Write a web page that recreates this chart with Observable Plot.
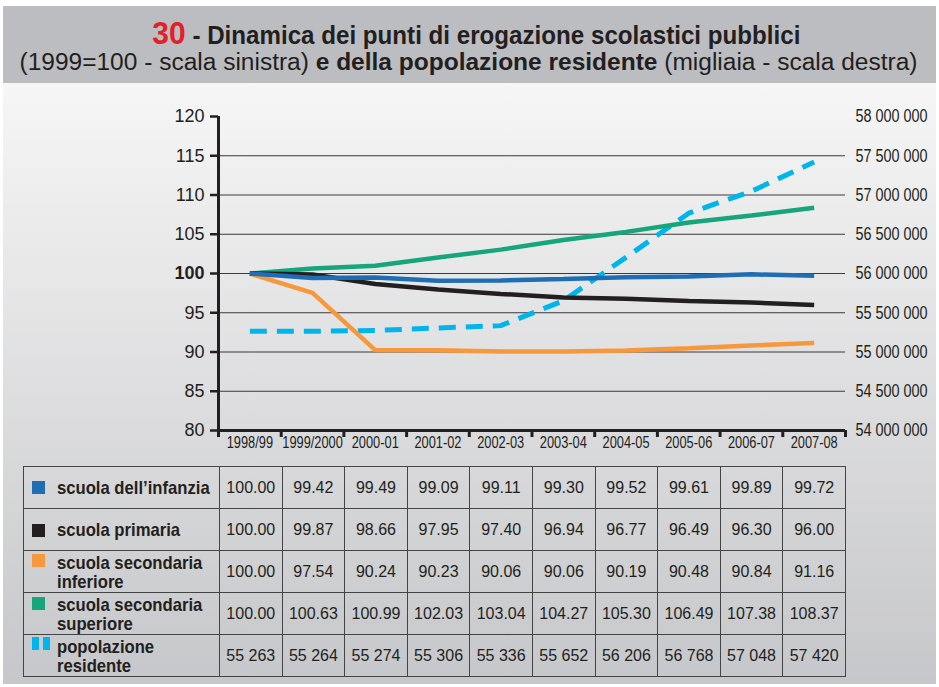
<!DOCTYPE html>
<html><head><meta charset="utf-8">
<script src="https://cdn.jsdelivr.net/npm/d3@7"></script>
<script src="https://cdn.jsdelivr.net/npm/@observablehq/plot@0.6"></script>
<style>
body{margin:0;background:#fff;}
#wrap{position:relative;width:939px;height:687px;overflow:hidden;font-family:"Liberation Sans",Arial,sans-serif;color:#231f20;}
#band{position:absolute;left:3px;top:6px;width:933px;height:77px;background:#bcbdc1;}
#panel{position:absolute;left:3px;top:83px;width:933px;height:601px;background:linear-gradient(#f6f6f6,#c6c7ca);}
.tline{position:absolute;left:0;text-align:center;white-space:nowrap;}
.tline span.in{display:inline-block;transform-origin:center center;}
#t1{top:16px;width:952px;font-weight:bold;font-size:25px;}
#t1 .num{color:#e3202a;font-size:31px;}
#t2{top:49px;width:938px;font-size:23px;}
#chart{position:absolute;left:0;top:90px;}
#tbl{position:absolute;left:23px;top:466px;width:823px;border-collapse:collapse;table-layout:fixed;}
#tbl td{border:1px solid #444;height:41px;padding:0;text-align:center;font-size:16px;overflow:visible;}
#tbl td.lab{text-align:left;position:relative;white-space:nowrap;}
#tbl td.lab .lbl{display:inline-block;margin-left:33px;font-weight:bold;font-size:18.5px;line-height:19px;transform:scaleX(0.9);transform-origin:left center;vertical-align:middle;}
.sw{position:absolute;left:8px;width:13px;height:13px;}
.sw2{position:absolute;width:7px;height:13px;}
</style></head>
<body><div id="wrap">
<div id="band"></div><div id="panel"></div>
<div id="t1" class="tline"><span class="in"><span class="num">30</span> - Dinamica dei punti di erogazione scolastici pubblici</span></div>
<div id="t2" class="tline"><span class="in">(1999=100 - scala sinistra) <b>e della popolazione residente</b> (migliaia - scala destra)</span></div>
<div id="chart"></div>
<table id="tbl"></table>
</div>
<script>
const categories = ["1998/99","1999/2000","2000-01","2001-02","2002-03","2003-04","2004-05","2005-06","2006-07","2007-08"];
const infanzia = [100.00,99.42,99.49,99.09,99.11,99.30,99.52,99.61,99.89,99.72];
const primaria = [100.00,99.87,98.66,97.95,97.40,96.94,96.77,96.49,96.30,96.00];
const secInferiore = [100.00,97.54,90.24,90.23,90.06,90.06,90.19,90.48,90.84,91.16];
const secSuperiore = [100.00,100.63,100.99,102.03,103.04,104.27,105.30,106.49,107.38,108.37];
const popolazione = [55263,55264,55274,55306,55336,55652,56206,56768,57048,57420]; // migliaia
const leftTicks = [80,85,90,95,100,105,110,115,120];
const rightTicks = [54000000,54500000,55000000,55500000,56000000,56500000,57000000,57500000,58000000];
const seriesNames = ["scuola dell\u2019infanzia","scuola primaria","scuola secondaria<br>inferiore","scuola secondaria<br>superiore","popolazione<br>residente"];
const colors = {inf:"#1f6db4", pri:"#231f20", sinf:"#f7983d", ssup:"#17a57c", pop:"#00b4ec"};

const FONT = '"Liberation Sans",Arial,sans-serif';
const popToLeft = v => 80 + (v - 54000) / 100;           // thousands -> left scale
const rightToLeft = v => 80 + (v - 54000000) / 100000;   // units -> left scale
const spaceFmt = v => d3.format(",")(v).replace(/,/g, " ");
const idx = (d, i) => i;
const lineOpts = {strokeWidth: 4.5, strokeLinecap: "butt", strokeLinejoin: "miter"};

const plot = Plot.plot({
  width: 939, height: 370,
  marginLeft: 218, marginRight: 94, marginTop: 26, marginBottom: 30,
  style: {background: "transparent", overflow: "visible"},
  x: {type: "linear", domain: [-0.5, 9.5], axis: null},
  y: {type: "linear", domain: [80, 120], axis: null},
  marks: [
    Plot.ruleY(leftTicks.filter(d => d > 80 && d < 120), {stroke: "#3a3a3a", strokeWidth: 1}),
    Plot.axisY({anchor: "left", ticks: leftTicks, tickSize: 8, tickPadding: 6, tickFormat: d => String(d),
      fontSize: 18, fontFamily: FONT, stroke: "#231f20", strokeWidth: 2.5, fill: "#231f20", label: null}),
    Plot.text(rightTicks, {x: 9.5, y: rightToLeft, text: spaceFmt, dx: 10, textAnchor: "start",
      fontSize: 18, fontFamily: FONT, fill: "#231f20"}),
    Plot.axisX({anchor: "bottom", ticks: d3.range(-0.5, 10, 1), tickSize: 7, tickFormat: () => "", stroke: "#231f20", strokeWidth: 3, label: null}),
    Plot.axisX({anchor: "bottom", ticks: d3.range(0, 10), tickSize: 0, tickPadding: 6, tickFormat: i => categories[i],
      fontSize: 16, fontFamily: FONT, fill: "#231f20", label: null}),
    Plot.ruleY([80], {stroke: "#231f20", strokeWidth: 3}),
    Plot.ruleX([-0.5], {stroke: "#231f20", strokeWidth: 3}),
    Plot.line(popolazione, {x: idx, y: popToLeft, stroke: colors.pop, strokeWidth: 5, strokeDasharray: "17,10", strokeLinecap: "butt", strokeLinejoin: "miter"}),
    Plot.line(secInferiore, {x: idx, y: d => d, stroke: colors.sinf, ...lineOpts}),
    Plot.line(secSuperiore, {x: idx, y: d => d, stroke: colors.ssup, ...lineOpts}),
    Plot.line(primaria, {x: idx, y: d => d, stroke: colors.pri, ...lineOpts}),
    Plot.line(infanzia, {x: idx, y: d => d, stroke: colors.inf, ...lineOpts})
  ]
});
document.getElementById("chart").appendChild(plot);
const svg = d3.select(plot);
svg.selectAll("text").filter(function(){ return this.textContent === "100"; }).attr("font-weight", "bold");
// condensed look for right-axis and category labels
svg.selectAll('g[aria-label="text"] text, g[aria-label="x-axis tick label"] text').each(function(){
  const w = this.getComputedTextLength();
  if (w > 0) { this.setAttribute("textLength", (w * 0.8).toFixed(1)); this.setAttribute("lengthAdjust", "spacingAndGlyphs"); }
});

// title condensing to reference widths
function fit(id, target){
  const s = document.querySelector(id + " span.in");
  const w = s.getBoundingClientRect().width;
  s.style.transform = `scaleX(${target / w})`;
}
fit("#t1", 648);
fit("#t2", 898);

// table
const rows = [
  {name: seriesNames[0], vals: infanzia.map(v => v.toFixed(2)), sw: `<span class="sw" style="background:${colors.inf};top:14px"></span>`},
  {name: seriesNames[1], vals: primaria.map(v => v.toFixed(2)), sw: `<span class="sw" style="background:${colors.pri};top:15px"></span>`},
  {name: seriesNames[2], vals: secInferiore.map(v => v.toFixed(2)), sw: `<span class="sw" style="background:${colors.sinf};top:3px"></span>`},
  {name: seriesNames[3], vals: secSuperiore.map(v => v.toFixed(2)), sw: `<span class="sw" style="background:${colors.ssup};top:4px"></span>`},
  {name: seriesNames[4], vals: popolazione.map(spaceFmt), sw: `<span class="sw2" style="background:${colors.pop};top:2px;left:8px"></span><span class="sw2" style="background:${colors.pop};top:2px;left:19px"></span>`}
];
const tbl = d3.select("#tbl");
const cg = tbl.append("colgroup");
cg.append("col").style("width", "196px");
categories.forEach(() => cg.append("col"));
rows.forEach(r => {
  const tr = tbl.append("tr");
  tr.append("td").attr("class", "lab").html(r.sw + `<span class="lbl">${r.name}</span>`);
  r.vals.forEach(v => tr.append("td").text(v));
});
</script>
</body></html>
